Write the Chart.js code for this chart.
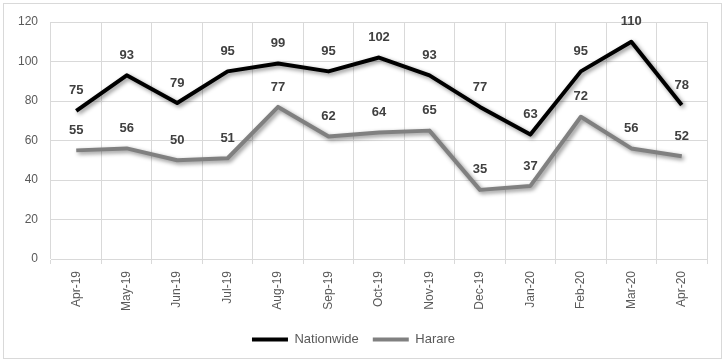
<!DOCTYPE html>
<html><head><meta charset="utf-8">
<script src="https://cdn.jsdelivr.net/npm/chart.js@4/dist/chart.umd.min.js"></script>
<style>html,body{margin:0;padding:0;background:#fff;}#wrap{width:726px;height:363px;}</style>
</head><body><div id="wrap"><canvas id="c" width="726" height="363"></canvas></div>
<script>
const categories = ["Apr-19","May-19","Jun-19","Jul-19","Aug-19","Sep-19","Oct-19","Nov-19","Dec-19","Jan-20","Feb-20","Mar-20","Apr-20"];
const nationwide = [75,93,79,95,99,95,102,93,77,63,95,110,78];
const harare = [55,56,50,51,77,62,64,65,35,37,72,56,52];
const yTicks = [0,20,40,60,80,100,120];

const borderPlugin = {
  id:'border',
  beforeDraw(chart){
    const ctx = chart.ctx;
    ctx.save();
    ctx.fillStyle='#fff';ctx.fillRect(0,0,chart.width,chart.height);
    ctx.strokeStyle='#d9d9d9';ctx.lineWidth=1;
    ctx.strokeRect(3.5,3.5,718,355);
    ctx.restore();
  }
};
const shadowPlugin = {
  id:'shadow',
  beforeDatasetDraw(chart,args){
    const ctx=chart.ctx;ctx.save();
    ctx.shadowColor='rgba(0,0,0,0.45)';ctx.shadowBlur=4;ctx.shadowOffsetX=2;ctx.shadowOffsetY=2;
  },
  afterDatasetDraw(chart){chart.ctx.restore();}
};
const labelPlugin = {
  id:'labels',
  afterDatasetsDraw(chart){
    const ctx=chart.ctx;ctx.save();
    ctx.font='bold 13px "Liberation Sans", Arial, sans-serif';
    ctx.fillStyle='#404040';ctx.textAlign='center';ctx.textBaseline='middle';
    chart.data.datasets.forEach((ds,i)=>{
      const meta=chart.getDatasetMeta(i);
      meta.data.forEach((pt,j)=>{
        ctx.fillText(String(ds.data[j]), pt.x, pt.y-20);
      });
    });
    ctx.restore();
  }
};

new Chart(document.getElementById('c'),{
  type:'line',
  data:{labels:categories,datasets:[
    {label:'Nationwide',data:nationwide,borderColor:'#000000',backgroundColor:'#000000',borderWidth:4,pointRadius:0,tension:0,borderJoinStyle:'round'},
    {label:'Harare',data:harare,borderColor:'#808080',backgroundColor:'#808080',borderWidth:4,pointRadius:0,tension:0,borderJoinStyle:'round'}
  ]},
  options:{
    responsive:false,animation:false,
    layout:{padding:{left:0,right:19,top:22,bottom:7}},
    plugins:{
      tooltip:{enabled:false},
      legend:{position:'bottom',labels:{usePointStyle:true,pointStyle:'line',pointStyleWidth:36,color:'#595959',font:{family:'"Liberation Sans", Arial, sans-serif',size:13},padding:14}}
    },
    scales:{
      x:{offset:true,grid:{offset:true,color:'#d9d9d9',tickLength:5,drawTicks:true},border:{color:'#d9d9d9'},
         ticks:{color:'#595959',font:{family:'"Liberation Sans", Arial, sans-serif',size:12},maxRotation:90,minRotation:90,padding:7},
         afterFit(s){s.height=60;}},
      y:{min:0,max:120,grid:{color:'#d9d9d9',drawTicks:false},border:{display:false},
         afterBuildTicks(s){s.ticks=yTicks.map(v=>({value:v}));},
         ticks:{color:'#595959',font:{family:'"Liberation Sans", Arial, sans-serif',size:12},padding:13},
         afterFit(s){s.width=51;}}
    }
  },
  plugins:[borderPlugin,shadowPlugin,labelPlugin]
});
</script></body></html>
